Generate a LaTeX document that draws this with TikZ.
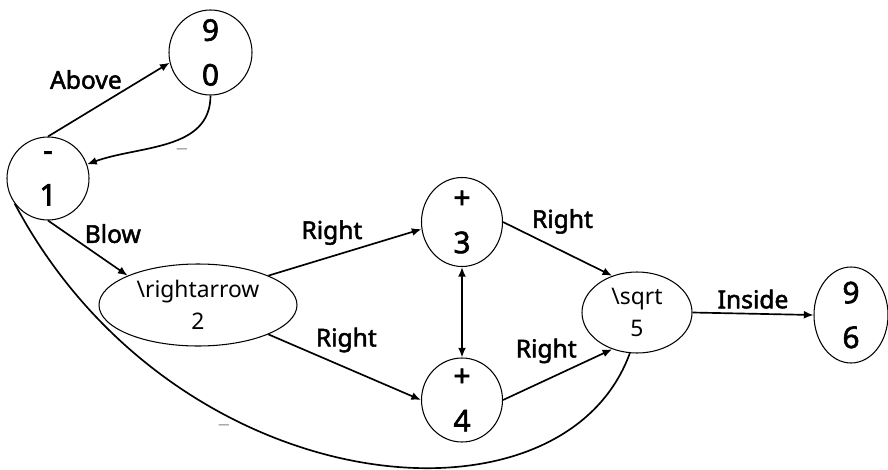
\documentclass[tikz,border=0pt]{standalone}
\usepackage{fontspec}
\setmainfont{Noto Sans}[BoldFont={Noto Sans}, BoldFeatures={FakeBold=2}]
\usetikzlibrary{shapes.geometric,arrows.meta}

\begin{document}
\begin{tikzpicture}[
        knode/.style={draw, ellipse, inner sep=0pt, line width=0.6pt},
        big/.style={font=\bfseries\fontsize{17}{25.5}\selectfont, align=center},
        small/.style={font=\fontsize{13}{18}\selectfont, align=center},
        lab/.style={font=\bfseries\fontsize{14}{16}\selectfont, inner sep=0.5pt},
        ul/.style={font=\fontsize{13}{15}\selectfont, text=gray!70},
        conn/.style={line width=0.95pt},
        arr/.style={conn, -{Latex[length=5.5pt,width=4.5pt]}}
    ]
        \useasboundingbox (0,0) rectangle (17.76,-9.38);

        % 结点
        \node[knode, minimum width=1.66cm, minimum height=1.70cm, label={[big]center:9\\0}] (n90) at (4.21,-1.05) {};
        \node[knode, minimum width=1.64cm, minimum height=1.66cm, label={[big]center:-\\1}] (n1) at (0.96,-3.57) {};
        \node[knode, minimum width=3.96cm, minimum height=1.64cm, label={[small]center:\textbackslash rightarrow\\2}] (n2) at (3.96,-6.10) {};
        \node[knode, minimum width=1.62cm, minimum height=1.78cm, label={[big]center:+\\3}] (n3) at (9.24,-4.44) {};
        \node[knode, minimum width=1.62cm, minimum height=1.68cm, label={[big]center:+\\4}] (n4) at (9.24,-8.00) {};
        \node[knode, minimum width=2.20cm, minimum height=1.62cm, label={[small]center:\textbackslash sqrt\\5}] (n5) at (12.74,-6.25) {};
        \node[knode, minimum width=1.48cm, minimum height=1.92cm, label={[big]center:9\\6}] (n96) at (17.02,-6.30) {};

        % 连线
        \draw[arr] (n1.north) -- node[lab, pos=0.62, anchor=south east] {Above} (n90.194);
        \draw[arr] (n90.south) to[out=-90, in=20] node[ul, pos=0.4, below=1pt] {\_} (n1.20);
        \draw[arr] (n1.south) -- node[lab, pos=0.44, anchor=south west] {Blow} (n2.north west);
        \draw[arr] (n2.north east) -- node[lab, pos=0.625, anchor=south east] {Right} (n3.190);
        \draw[arr] (n2.south east) -- node[lab, pos=0.3, anchor=south west] {Right} (n4.west);
        \draw[conn, {Latex[length=5.5pt,width=4.5pt]}-{Latex[length=5.5pt,width=4.5pt]}] (n3.south) -- (n4.north);
        \draw[arr] (n3.east) -- node[lab, pos=0.25, anchor=south west] {Right} (n5.124);
        \draw[arr] (n4.east) -- node[lab, pos=0.69, anchor=south east] {Right} (n5.236);
        \draw[arr] (n5.east) -- node[lab, midway, above=2pt] {Inside} (n96.west);

        % 下方弧线
        \draw[conn] (n1.217) .. controls +(-62:6.8) and +(-110:4.0) .. node[ul, pos=0.3, below right=7pt, xshift=-3pt] {\_} (n5.260);
    \end{tikzpicture}
\end{document}
